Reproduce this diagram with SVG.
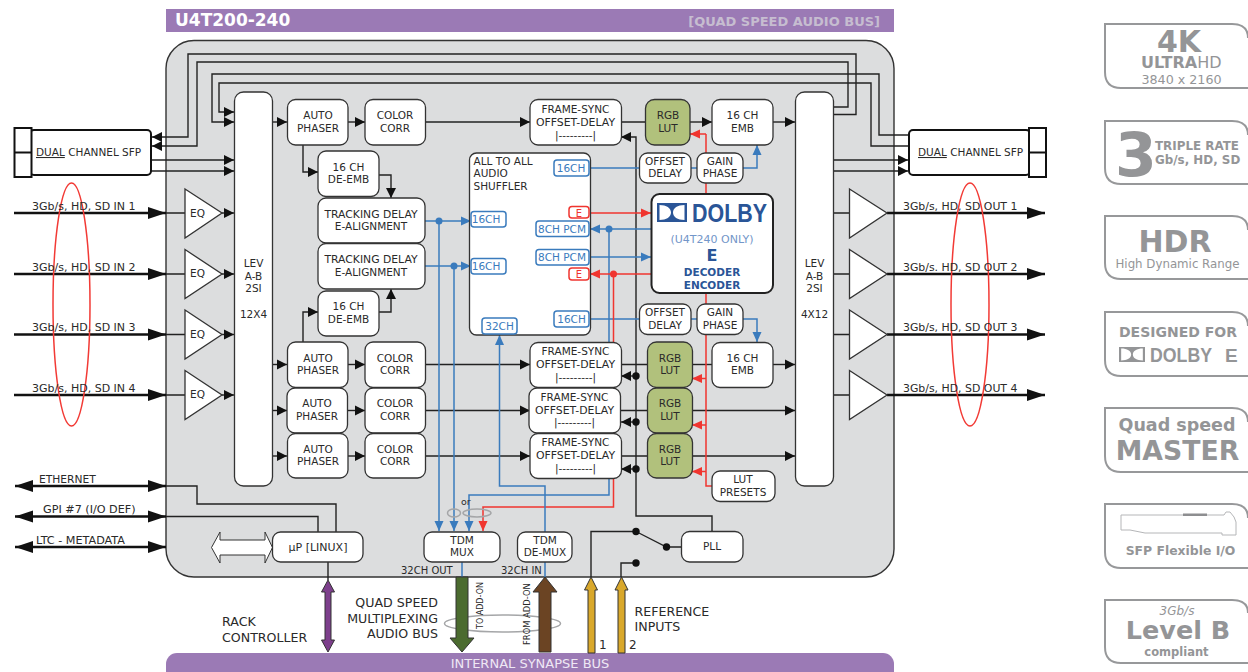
<svg xmlns="http://www.w3.org/2000/svg" width="1248" height="672" viewBox="0 0 1248 672">
<style>
text{font-family:"DejaVu Sans",Verdana,sans-serif;font-size:10.5px;fill:#2a2a2a}
.m{text-anchor:middle}
.n{fill:#fff;stroke:#333;stroke-width:1.3}
.lut{fill:#b1c17c;stroke:#333;stroke-width:1.3}
.k{fill:none;stroke:#222;stroke-width:1.4}
.ka{fill:none;stroke:#222;stroke-width:1.4;marker-end:url(#ah)}
.th{fill:none;stroke:#111;stroke-width:2.6;marker-end:url(#ath)}
.thb{fill:none;stroke:#111;stroke-width:2.6;marker-end:url(#ath);marker-start:url(#ath)}
.b{fill:none;stroke:#3a7bbd;stroke-width:1.5}
.ba{fill:none;stroke:#3a7bbd;stroke-width:1.5;marker-end:url(#ab)}
.r{fill:none;stroke:#f0352f;stroke-width:1.5}
.ra{fill:none;stroke:#f0352f;stroke-width:1.5;marker-end:url(#ar)}
.tb{fill:#fff;stroke:#3a7bbd;stroke-width:1.5}
.tr{fill:#fff;stroke:#f0352f;stroke-width:1.5}
.tbt{fill:#3a7bbd;text-anchor:middle;font-size:10.5px}
.trt{fill:#f0352f;text-anchor:middle;font-size:10px}
.ov{fill:none;stroke:#f23a35;stroke-width:1.5}
.gov{fill:none;stroke:#a5a6a8;stroke-width:1.5}
.bd{fill:none;stroke:#97989a;stroke-width:2}
.g{fill:#949597;font-weight:bold}
.gr{fill:#949597}
.db{fill:#2a5597;font-weight:bold}
.l{font-size:12.6px}
.io{font-size:10.9px}
</style>
<defs>
<marker id="ah" markerUnits="userSpaceOnUse" markerWidth="12" markerHeight="12" refX="11" refY="6" orient="auto-start-reverse"><path d="M1 1 L11 6 L1 11Z" fill="#111"/></marker>
<marker id="ath" markerUnits="userSpaceOnUse" markerWidth="18" markerHeight="14" refX="18" refY="7" orient="auto-start-reverse"><path d="M0 1 L18 7 L0 13Z" fill="#111"/></marker>
<marker id="ab" markerUnits="userSpaceOnUse" markerWidth="12" markerHeight="12" refX="11" refY="6" orient="auto-start-reverse"><path d="M1 1.5 L11 6 L1 10.5Z" fill="#3a7bbd"/></marker>
<marker id="ar" markerUnits="userSpaceOnUse" markerWidth="12" markerHeight="12" refX="11" refY="6" orient="auto-start-reverse"><path d="M1 1.5 L11 6 L1 10.5Z" fill="#f0352f"/></marker>
<symbol id="dolbymark" viewBox="0 0 30 19" preserveAspectRatio="none"><path fill-rule="evenodd" d="M0 0H30V19H0Z M2.5 2V17C9.5 17 14 14 14 9.5C14 5 9.5 2 2.5 2Z M27.5 2V17C20.5 17 16 14 16 9.5C16 5 20.5 2 27.5 2Z"/></symbol>
</defs>

<g id="header"><rect x="166" y="9" width="728" height="23" fill="#9b7ab5"/>
<text x="175" y="25.5" style="font-size:17px;font-weight:bold;fill:#fff">U4T200-240</text>
<text x="880" y="25.5" text-anchor="end" style="font-size:13px;font-weight:bold;fill:#c6bdd0">[QUAD SPEED AUDIO BUS]</text></g>
<g id="frame"><rect x="166" y="40.5" width="728" height="536.5" rx="28" fill="#dcddde" stroke="#333" stroke-width="1.4"/></g>
<g id="bus"><path d="M177 653H883A11 11 0 0 1 894 664V672H166V664A11 11 0 0 1 177 653Z" fill="#9b7ab5"/>
<text x="530" y="668" class="m" style="font-size:13px;fill:#efe8f4">INTERNAL SYNAPSE BUS</text></g>

<g id="connectors">
<path class="ka" d="M833 114.5H856V54H188V137H152"/>
<path class="ka" d="M833 107H848V62H197V146H152"/>
<path class="ka" d="M909 135H879V74H212V122H234"/>
<path class="ka" d="M909 146H871V83H219V112H234"/>
<path class="ka" d="M151 160H234"/><path class="ka" d="M151 171H234"/>
<path class="ka" d="M833 160H908"/><path class="ka" d="M833 171H908"/>
<path class="th" d="M14 213H166"/><path class="th" d="M14 274H166"/><path class="th" d="M14 334.5H166"/><path class="th" d="M14 395H166"/>
<path class="k" d="M166 213H185M166 274H185M166 334.5H185M166 395H185"/>
<path class="ka" d="M222 213H234"/><path class="ka" d="M222 274H234"/><path class="ka" d="M222 334.5H234"/><path class="ka" d="M222 395H234"/>
<path class="k" d="M833 213H850M833 274H850M833 334.5H850M833 395H850"/>
<path class="th" d="M887 213H1045"/><path class="th" d="M887 274H1045"/><path class="th" d="M887 334.5H1045"/><path class="th" d="M887 395H1045"/>
<path class="ka" d="M272 122H287"/><path class="ka" d="M272 364.5H287"/><path class="ka" d="M272 410.5H287"/><path class="ka" d="M272 456H287"/>
<path class="ka" d="M348 122H365"/><path class="ka" d="M348 364.5H365"/><path class="ka" d="M348 410.5H365"/><path class="ka" d="M348 456H365"/>
<path class="ka" d="M425 122H530"/><path class="ka" d="M425 364.5H530"/><path class="ka" d="M425 410.5H530"/><path class="ka" d="M425 456H530"/>
<path class="ka" d="M303 145V172H318"/><path class="ka" d="M303 342V312H318"/>
<path class="ka" d="M379 175H391V198"/><path class="ka" d="M379 312H391V289"/>
<path class="k" d="M621 122H646M621 364.5H648M621 410.5H648M621 456H648"/>
<path class="ka" d="M690 122H712"/><path class="k" d="M692 364.5H712"/>
<path class="ka" d="M773 122H795"/><path class="ka" d="M773 364.5H795"/>
<path class="ka" d="M692 410.5H795"/><path class="ka" d="M692 456H795"/>
<path class="r" d="M706 134V486H712"/>
<path class="ra" d="M706 134H690"/><path class="ra" d="M706 378.5H692"/><path class="ra" d="M706 425H692"/><path class="ra" d="M706 471.5H692"/>
<path class="ka" d="M712 531V516H636V137H621"/>
<path class="ka" d="M636 376H621"/><path class="ka" d="M636 422H621"/><path class="ka" d="M636 469H621"/>
<g fill="#111"><circle cx="636" cy="376" r="3.7"/><circle cx="636" cy="422" r="3.7"/><circle cx="636" cy="469" r="3.7"/></g>
<path class="b" d="M590 168H640M691 168H697"/><path class="ba" d="M743 168H757V145"/>
<path class="b" d="M590 319H640M691 319H697"/><path class="ba" d="M743 319H757V342"/>
<path class="ba" d="M425 221H471"/><path class="ba" d="M425 266H471"/>
<path class="ba" d="M439 221V531"/><path class="ba" d="M454 266V531"/>
<path class="ba" d="M652 229H590"/><path class="ba" d="M590 257H651"/>
<path class="ba" d="M609 229V495H469V531"/>
<path class="ra" d="M590 213H651"/><path class="ra" d="M652 274H590"/>
<path class="ra" d="M613.5 274V507H483V531"/>
<path class="ba" d="M545 532V486H499.5V335"/>
<path class="b" d="M545 562V577M462 562V577"/>
<g fill="#3a7bbd"><circle cx="439" cy="221" r="3.5"/><circle cx="454" cy="266" r="3.5"/><circle cx="609" cy="229" r="3.5"/></g>
<circle cx="613.5" cy="274" r="3.5" fill="#f0352f"/>
<path class="thb" d="M15 486H166"/><path class="thb" d="M15 516.5H166"/><path class="thb" d="M15 547H166"/>
<path class="k" d="M166 486H197V504H336V532"/><path class="k" d="M166 516.5H318V532"/>
<path class="k" d="M328 562V580"/>
<path class="k" d="M591 577V531.5H636"/><path class="k" d="M621 577V563H636"/>
<path class="k" d="M636 531.5L666.5 547H681"/>
<g fill="#111"><circle cx="636" cy="531.5" r="3.7"/><circle cx="666.5" cy="547" r="3.7"/><circle cx="636" cy="563" r="3.7"/></g>
<ellipse class="gov" cx="454" cy="513" rx="6.5" ry="4"/><ellipse class="gov" cx="477" cy="513" rx="14" ry="4"/>
<ellipse class="gov" cx="502.5" cy="623.5" rx="58" ry="8.5"/>
<path d="M456 577H468V638H474L462 652L450 638H456Z" fill="#4b6b2f" stroke="#333"/>
<path d="M545 577L557 592H551V652H539V592H533Z" fill="#6b4423" stroke="#333"/>
<path d="M591 577L597.5 590H595V653H588V590H584.5Z" fill="#d9a82b" stroke="#333"/>
<path d="M621.5 577L628 590H625V653H618V590H615Z" fill="#d9a82b" stroke="#333"/>
<path d="M328 580L334.5 592H331V640H334.5L328 652L321.5 640H325V592H321.5Z" fill="#7d3f8c" stroke="#333"/>
<path d="M211.5 547.5L220 532V540H265V532L272.5 547.5L265 563V555H220V563Z" fill="#fff" stroke="#333"/>
</g>

<g id="ovals"><ellipse class="ov" cx="71.5" cy="304.5" rx="18.5" ry="121.5"/><ellipse class="ov" cx="970" cy="304.5" rx="19" ry="121.5"/></g>

<g id="sfp-left"><rect x="30" y="130" width="121" height="45" rx="4" fill="#fff" stroke="#111" stroke-width="2"/><rect x="14.5" y="128" width="17" height="49" fill="#fff" stroke="#111" stroke-width="2"/><path d="M14.5 152.5H31.5" stroke="#111" stroke-width="2"/>
<text x="36" y="156"><tspan text-decoration="underline">DUAL</tspan> CHANNEL SFP</text></g>
<g id="sfp-right"><rect x="909" y="130" width="121" height="45" rx="4" fill="#fff" stroke="#111" stroke-width="2"/><rect x="1029" y="128" width="17" height="49" fill="#fff" stroke="#111" stroke-width="2"/><path d="M1029 152.5H1046" stroke="#111" stroke-width="2"/>
<text x="918" y="156"><tspan text-decoration="underline">DUAL</tspan> CHANNEL SFP</text></g>

<g id="lev-left"><rect class="n" x="234.5" y="92" width="38" height="394" rx="9"/><text class="m" x="253.5" y="267">LEV</text><text class="m" x="253.5" y="280">A-B</text><text class="m" x="253.5" y="292">2SI</text><text class="m" x="253.5" y="318">12X4</text></g>
<g id="lev-right"><rect class="n" x="795.5" y="92" width="38" height="394" rx="9"/><text class="m" x="814.5" y="267">LEV</text><text class="m" x="814.5" y="280">A-B</text><text class="m" x="814.5" y="292">2SI</text><text class="m" x="814.5" y="318">4X12</text></g>

<g id="eq1"><path class="n" d="M185 189L222 213L185 238Z"/><text x="190" y="217">EQ</text></g>
<g id="eq2"><path class="n" d="M185 249.5L222 274L185 298.5Z"/><text x="190" y="277">EQ</text></g>
<g id="eq3"><path class="n" d="M185 310L222 334.5L185 359Z"/><text x="190" y="338">EQ</text></g>
<g id="eq4"><path class="n" d="M185 370.5L222 395L185 419.5Z"/><text x="190" y="398">EQ</text></g>
<g id="drv1"><path class="n" d="M849.5 189L887 213L849.5 238Z"/></g>
<g id="drv2"><path class="n" d="M849.5 249.5L887 274L849.5 298.5Z"/></g>
<g id="drv3"><path class="n" d="M849.5 310L887 334.5L849.5 359Z"/></g>
<g id="drv4"><path class="n" d="M849.5 370.5L887 395L849.5 419.5Z"/></g>

<g id="input-labels">
<text class="io" x="32" y="210" style="font-size:11px">3Gb/s, HD, SD IN 1</text><text x="32" y="271" style="font-size:11px">3Gb/s, HD, SD IN 2</text><text x="32" y="331" style="font-size:11px">3Gb/s, HD, SD IN 3</text><text x="32" y="392" style="font-size:11px">3Gb/s, HD, SD IN 4</text>
<text class="io" x="903" y="210">3Gb/s, HD, SD OUT 1</text><text class="io" x="903" y="271">3Gb/s. HD, SD OUT 2</text><text class="io" x="903" y="331">3Gb/s, HD, SD OUT 3</text><text class="io" x="903" y="392">3Gb/s, HD, SD OUT 4</text>
<text x="39" y="483" style="font-size:10.7px">ETHERNET</text><text x="43" y="513" style="font-size:11.2px">GPI #7 (I/O DEF)</text><text x="36" y="544" style="font-size:11.2px">LTC - METADATA</text>
</g>

<g id="phaser1"><rect class="n" x="287.5" y="99.5" width="60.5" height="45.5" rx="8"/><text class="m" x="318" y="119">AUTO</text><text class="m" x="318" y="132">PHASER</text></g>
<g id="corr1"><rect class="n" x="365" y="99.5" width="60.5" height="45.5" rx="8"/><text class="m" x="395" y="119">COLOR</text><text class="m" x="395" y="132">CORR</text></g>
<g id="deemb1"><rect class="n" x="318" y="151" width="61" height="45.5" rx="8"/><text class="m" x="348.5" y="171">16 CH</text><text class="m" x="348.5" y="183">DE-EMB</text></g>
<g id="track1"><rect class="n" x="318" y="198" width="107" height="45" rx="8"/><text class="m" x="371" y="218" style="font-size:10.8px">TRACKING DELAY</text><text class="m" x="371" y="230">E-ALIGNMENT</text></g>
<g id="track2"><rect class="n" x="318" y="243.5" width="107" height="45.5" rx="8"/><text class="m" x="371" y="263" style="font-size:10.8px">TRACKING DELAY</text><text class="m" x="371" y="276">E-ALIGNMENT</text></g>
<g id="deemb2"><rect class="n" x="318" y="291" width="61" height="45" rx="8"/><text class="m" x="348.5" y="310">16 CH</text><text class="m" x="348.5" y="323">DE-EMB</text></g>
<g id="phaser2"><rect class="n" x="287.5" y="342" width="60.5" height="45.5" rx="8"/><text class="m" x="318" y="362">AUTO</text><text class="m" x="318" y="374">PHASER</text></g>
<g id="phaser3"><rect class="n" x="287" y="388" width="60.5" height="45" rx="8"/><text class="m" x="317" y="407">AUTO</text><text class="m" x="317" y="420">PHASER</text></g>
<g id="phaser4"><rect class="n" x="287.5" y="433.5" width="60.5" height="44.5" rx="8"/><text class="m" x="318" y="453">AUTO</text><text class="m" x="318" y="465">PHASER</text></g>
<g id="corr2"><rect class="n" x="365" y="342" width="60.5" height="45.5" rx="8"/><text class="m" x="395" y="362">COLOR</text><text class="m" x="395" y="374">CORR</text></g>
<g id="corr3"><rect class="n" x="365" y="388" width="60.5" height="45" rx="8"/><text class="m" x="395" y="407">COLOR</text><text class="m" x="395" y="420">CORR</text></g>
<g id="corr4"><rect class="n" x="365" y="433.5" width="60.5" height="44.5" rx="8"/><text class="m" x="395" y="453">COLOR</text><text class="m" x="395" y="465">CORR</text></g>

<g id="fs1"><rect class="n" x="530" y="99.5" width="91.5" height="45.5" rx="8"/><text class="m" x="575.5" y="113">FRAME-SYNC</text><text class="m" x="575.5" y="126" style="font-size:10.9px">OFFSET-DELAY</text><text class="m" x="575.5" y="139">|---------|</text></g>
<g id="fs2"><rect class="n" x="530" y="342.5" width="91.5" height="45" rx="8"/><text class="m" x="575.5" y="355">FRAME-SYNC</text><text class="m" x="575.5" y="368" style="font-size:10.9px">OFFSET-DELAY</text><text class="m" x="575.5" y="381">|---------|</text></g>
<g id="fs3"><rect class="n" x="529" y="388" width="91.5" height="45" rx="8"/><text class="m" x="574.5" y="401">FRAME-SYNC</text><text class="m" x="574.5" y="414" style="font-size:10.9px">OFFSET-DELAY</text><text class="m" x="574.5" y="426">|---------|</text></g>
<g id="fs4"><rect class="n" x="530" y="433.5" width="91.5" height="45" rx="8"/><text class="m" x="575.5" y="446">FRAME-SYNC</text><text class="m" x="575.5" y="459" style="font-size:10.9px">OFFSET-DELAY</text><text class="m" x="575.5" y="472">|---------|</text></g>

<g id="lut1"><rect class="lut" x="645.5" y="99.5" width="44.5" height="45.5" rx="9"/><text class="m" x="668" y="119">RGB</text><text class="m" x="668" y="132">LUT</text></g>
<g id="lut2"><rect class="lut" x="647.5" y="342" width="45" height="45.5" rx="9"/><text class="m" x="670" y="362">RGB</text><text class="m" x="670" y="374">LUT</text></g>
<g id="lut3"><rect class="lut" x="647.5" y="388" width="45" height="45" rx="9"/><text class="m" x="670" y="407">RGB</text><text class="m" x="670" y="420">LUT</text></g>
<g id="lut4"><rect class="lut" x="647.5" y="433.5" width="45" height="44.5" rx="9"/><text class="m" x="670" y="453">RGB</text><text class="m" x="670" y="465">LUT</text></g>
<g id="emb1"><rect class="n" x="712" y="99.5" width="61" height="45.5" rx="8"/><text class="m" x="742.5" y="119">16 CH</text><text class="m" x="742.5" y="132">EMB</text></g>
<g id="emb2"><rect class="n" x="712" y="342.5" width="61" height="45" rx="8"/><text class="m" x="742.5" y="362">16 CH</text><text class="m" x="742.5" y="374">EMB</text></g>
<g id="lutpresets"><rect class="n" x="712" y="471" width="63" height="30.5" rx="8"/><text class="m" x="743" y="483">LUT</text><text class="m" x="743" y="496">PRESETS</text></g>

<g id="shuffler"><rect class="n" x="469.5" y="153" width="121" height="182" rx="7"/>
<text x="473.5" y="165">ALL TO ALL</text><text x="473.5" y="177">AUDIO</text><text x="473.5" y="190">SHUFFLER</text>
<rect class="tb" x="554" y="160" width="35" height="16" rx="3"/><text class="tbt" x="571" y="171.5">16CH</text>
<rect class="tb" x="471" y="211.5" width="35" height="15.5" rx="3"/><text class="tbt" x="486" y="223">16CH</text>
<rect class="tb" x="471" y="258.5" width="35" height="15.5" rx="3"/><text class="tbt" x="486" y="270">16CH</text>
<rect class="tr" x="569" y="206.5" width="20" height="11.5" rx="3"/><text class="trt" x="579" y="216.5">E</text>
<rect class="tb" x="536" y="221" width="53" height="15.5" rx="3"/><text class="tbt" x="562" y="232.5">8CH PCM</text>
<rect class="tb" x="536" y="249.5" width="53" height="15.5" rx="3"/><text class="tbt" x="562" y="261">8CH PCM</text>
<rect class="tr" x="569" y="268" width="20" height="12" rx="3"/><text class="trt" x="579" y="278">E</text>
<rect class="tb" x="554" y="311" width="35" height="16" rx="3"/><text class="tbt" x="571.5" y="322.5">16CH</text>
<rect class="tb" x="482" y="318" width="35" height="16" rx="3"/><text class="tbt" x="499.5" y="329.5">32CH</text></g>

<g id="od1"><rect class="n" x="639.5" y="153" width="51.5" height="30" rx="8"/><text class="m" x="665" y="165">OFFSET</text><text class="m" x="665" y="177">DELAY</text></g>
<g id="gp1"><rect class="n" x="697" y="153" width="46" height="30" rx="8"/><text class="m" x="720" y="165">GAIN</text><text class="m" x="720" y="177">PHASE</text></g>
<g id="od2"><rect class="n" x="639.5" y="304" width="51.5" height="30.5" rx="8"/><text class="m" x="665" y="316">OFFSET</text><text class="m" x="665" y="329">DELAY</text></g>
<g id="gp2"><rect class="n" x="697" y="304" width="46" height="30.5" rx="8"/><text class="m" x="720" y="316">GAIN</text><text class="m" x="720" y="329">PHASE</text></g>

<g id="dolby"><rect x="651.5" y="194" width="121.5" height="99" rx="8" fill="#fff" stroke="#222" stroke-width="2"/>
<use href="#dolbymark" x="657" y="203" width="30" height="19" fill="#2a5597"/>
<text x="692" y="222" textLength="75" lengthAdjust="spacingAndGlyphs" style="font-family:'Liberation Sans',Arial,sans-serif;font-size:26px;font-weight:bold;fill:#2a5597">DOLBY</text>
<text class="m" x="712" y="243" style="fill:#7396c9;font-size:11px">(U4T240 ONLY)</text>
<text class="m db" x="712" y="261" style="font-size:16px">E</text>
<text class="m db" x="712" y="276">DECODER</text><text class="m db" x="712" y="289">ENCODER</text></g>

<g id="tdmmux"><rect class="n" x="424" y="532" width="76" height="30" rx="8"/><text class="m" x="462" y="544">TDM</text><text class="m" x="462" y="556">MUX</text></g>
<g id="tdmdemux"><rect class="n" x="517.5" y="532" width="54.5" height="30" rx="8"/><text class="m" x="545" y="544">TDM</text><text class="m" x="545" y="556">DE-MUX</text></g>
<g id="pll"><rect class="n" x="681.5" y="531.5" width="61.5" height="30.5" rx="8"/><text class="m" x="712" y="550">PLL</text></g>
<g id="up"><rect class="n" x="272.5" y="532" width="90.5" height="30" rx="8"/><text class="m" x="318" y="551" style="font-size:11px">µP [LINUX]</text></g>

<g id="labels">
<text x="461" y="505" style="font-size:9.5px">or</text>
<text x="401" y="574" style="font-size:10px">32CH OUT</text><text x="501" y="574" style="font-size:10px">32CH IN</text>
<text class="l" x="438" y="607" text-anchor="end">QUAD SPEED</text><text class="l" x="438" y="623" text-anchor="end">MULTIPLEXING</text><text class="l" x="438" y="638" text-anchor="end">AUDIO BUS</text>
<text class="l" x="222" y="626">RACK</text><text class="l" x="222" y="642">CONTROLLER</text>
<text class="l" x="634.5" y="616">REFERENCE</text><text class="l" x="634.5" y="631">INPUTS</text>
<text x="599" y="649" style="font-size:12px">1</text><text x="629" y="649" style="font-size:12px">2</text>
<text transform="translate(482.5 629) rotate(-90)" style="font-size:8px">TO ADD-ON</text>
<text transform="translate(530 645) rotate(-90)" style="font-size:8.4px">FROM ADD-ON</text>
</g>

<g id="badge-4k"><path class="bd" d="M1248 38Q1248 24 1232 24H1105V72Q1105 88 1121 88H1248"/><text class="g m" x="1179" y="52" style="font-size:30px">4K</text><text x="1141" y="68" style="font-size:16px;font-weight:bold;fill:#949597">ULTRA<tspan font-weight="normal">HD</tspan></text><text class="gr m" x="1181.5" y="84" style="font-size:12.7px">3840 x 2160</text></g>
<g id="badge-3"><path class="bd" d="M1248 135Q1248 121 1232 121H1105V168Q1105 184 1121 184H1248"/><text class="g" x="1115" y="176" style="font-size:60px">3</text><text class="g" x="1155" y="150" style="font-size:11.9px">TRIPLE RATE</text><text class="g" x="1155" y="163.5" style="font-size:11.9px">Gb/s, HD, SD</text></g>
<g id="badge-hdr"><path class="bd" d="M1248 230Q1248 216 1232 216H1105V263Q1105 279 1121 279H1248"/><text class="g m" x="1175" y="252" style="font-size:30px">HDR</text><text class="gr m" x="1177.5" y="268" style="font-size:11.8px">High Dynamic Range</text></g>
<g id="badge-dolby"><path class="bd" d="M1248 326Q1248 312 1232 312H1105V360Q1105 376 1121 376H1248"/><text class="g m" x="1178" y="337" style="font-size:14px">DESIGNED FOR</text><use href="#dolbymark" x="1119" y="347" width="26" height="15" fill="#949597"/><text class="g" x="1150" y="362" textLength="62" lengthAdjust="spacingAndGlyphs" style="font-family:'Liberation Sans',Arial,sans-serif;font-size:21px">DOLBY</text><text class="g" x="1225" y="362" style="font-family:'Liberation Sans',Arial,sans-serif;font-size:19px">E</text></g>
<g id="badge-quad"><path class="bd" d="M1248 422Q1248 408 1232 408H1105V456Q1105 472 1121 472H1248"/><text class="g m" x="1177" y="431" style="font-size:17.5px">Quad speed</text><text class="g m" x="1177.5" y="460" style="font-size:26.7px">MASTER</text></g>
<g id="badge-sfp"><path class="bd" d="M1248 518Q1248 504 1232 504H1105V552Q1105 568 1121 568H1248"/>
<path d="M1121 515H1224L1226 512H1230L1234 517L1236 522V535H1222V533H1145L1130 530H1121Z" fill="none" stroke="#b5b6b8"/><rect x="1183" y="513.5" width="24" height="2.5" fill="#8d8e90"/>
<text class="g m" x="1180.5" y="555" style="font-size:12.4px">SFP Flexible I/O</text></g>
<g id="badge-level"><path class="bd" d="M1248 613Q1248 600 1232 600H1105V647Q1105 663 1121 663H1248"/><text class="gr m" x="1177" y="615" style="font-size:12px;font-style:italic">3Gb/s</text><text class="g m" x="1178" y="639" style="font-size:25.5px">Level B</text><text class="g m" x="1176.5" y="656" style="font-size:11.5px">compliant</text></g>
</svg>
